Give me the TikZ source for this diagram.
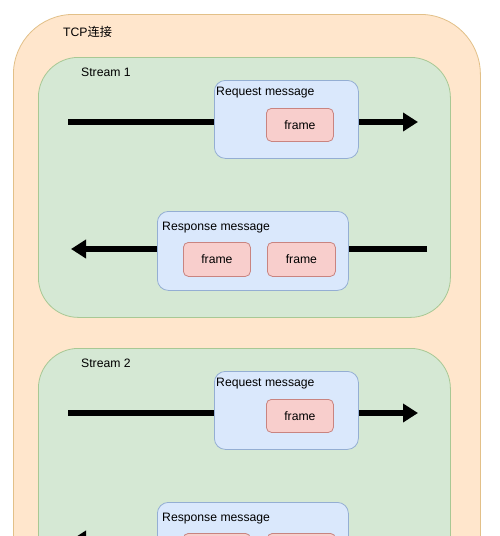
\documentclass[tikz,border=0pt]{standalone}
\usepackage{fontspec}
\setmainfont{Liberation Sans}
\newfontfamily\cjk{Noto Sans CJK SC}
\usetikzlibrary{arrows.meta}
\definecolor{tcpfill}{HTML}{FFE6CC}
\definecolor{tcpline}{HTML}{E2C088}
\definecolor{stfill}{HTML}{D5E8D4}
\definecolor{stline}{HTML}{A8C894}
\definecolor{msgfill}{HTML}{DAE8FC}
\definecolor{msgline}{HTML}{94AED3}
\definecolor{frfill}{HTML}{F8CECC}
\definecolor{frline}{HTML}{C98480}
\tikzset{
  tcpbox/.style={draw=tcpline, fill=tcpfill, line width=0.8pt, rounded corners=60pt, rectangle, anchor=north west, inner sep=0pt},
  streambox/.style={draw=stline, fill=stfill, line width=0.8pt, rounded corners=40pt, rectangle, anchor=north west, minimum width=412pt, minimum height=260pt, inner sep=0pt},
  msgbox/.style={draw=msgline, fill=msgfill, line width=0.8pt, rounded corners=11pt, rectangle, anchor=north west, inner sep=0pt},
  framebox/.style={draw=frline, fill=frfill, line width=0.8pt, rounded corners=5pt, rectangle, anchor=north west, minimum height=34pt, inner sep=0pt},
  lbl/.style={anchor=base west, inner sep=0pt, text=black},
  bigarrow/.style={line width=6pt, -{Triangle[length=15pt,width=18pt]}, black},
}
\begin{document}
\begin{tikzpicture}[x=1pt, y=-1pt, font=\fontsize{12.2}{14}\selectfont]
\useasboundingbox (0,0) rectangle (500,536);
\clip (0,0) rectangle (500,536);
\fill[white] (0,0) rectangle (500,536);
% outer TCP box
\node[tcpbox, minimum width=467pt, minimum height=640pt] (tcp) at (13,14) {};
\node[lbl] (tcplbl) at (63,36) {TCP{\cjk 连接}};
% ---------- Stream 1 ----------
\node[streambox] (st1) at (38,57) {};
\node[lbl] (st1lbl) at (81,76) {Stream 1};
\coordinate (a1s) at (68,122);
\coordinate (a1e) at (418,122);
\draw[bigarrow] (a1s) -- (a1e);
\node[msgbox, minimum width=144pt, minimum height=78pt] (req1) at (214,80) {};
\node[lbl] (req1lbl) at (216,95.5) {Request message};
\node[framebox, minimum width=67pt, minimum height=33pt] (req1f) at (266,108) {};
\node (req1ft) at (req1f.center) {frame};
\coordinate (b1s) at (427,249);
\coordinate (b1e) at (71,249);
\draw[bigarrow] (b1s) -- (b1e);
\node[msgbox, minimum width=191pt, minimum height=79pt] (res1) at (157,211) {};
\node[lbl] (res1lbl) at (162,230.5) {Response message};
\node[framebox, minimum width=67pt] (res1fa) at (183,242) {};
\node (res1fat) at (res1fa.center) {frame};
\node[framebox, minimum width=68pt] (res1fb) at (267,242) {};
\node (res1fbt) at (res1fb.center) {frame};
% ---------- Stream 2 ----------
\node[streambox] (st2) at (38,348) {};
\node[lbl] (st2lbl) at (81,367) {Stream 2};
\coordinate (a2s) at (68,413);
\coordinate (a2e) at (418,413);
\draw[bigarrow] (a2s) -- (a2e);
\node[msgbox, minimum width=144pt, minimum height=78pt] (req2) at (214,371) {};
\node[lbl] (req2lbl) at (216,386.5) {Request message};
\node[framebox, minimum width=67pt, minimum height=33pt] (req2f) at (266,399) {};
\node (req2ft) at (req2f.center) {frame};
\coordinate (b2s) at (427,540);
\coordinate (b2e) at (71,540);
\draw[bigarrow] (b2s) -- (b2e);
\node[msgbox, minimum width=191pt, minimum height=79pt] (res2) at (157,502) {};
\node[lbl] (res2lbl) at (162,521.5) {Response message};
\node[framebox, minimum width=67pt] (res2fa) at (183,533) {};
\node (res2fat) at (res2fa.center) {frame};
\node[framebox, minimum width=68pt] (res2fb) at (267,533) {};
\node (res2fbt) at (res2fb.center) {frame};
\end{tikzpicture}
\end{document}
